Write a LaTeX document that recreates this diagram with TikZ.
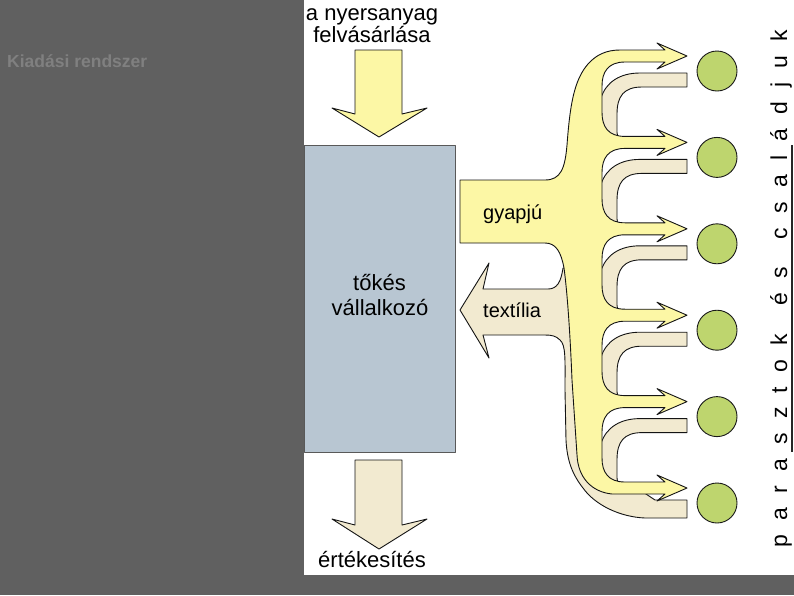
\documentclass[tikz,border=0pt]{standalone}
\usepackage{fontspec}
\setmainfont{Liberation Sans}
\definecolor{cBg}{RGB}{96,96,96}
\definecolor{cTitle}{RGB}{128,128,128}
\definecolor{cYel}{RGB}{252,247,165}
\definecolor{cBei}{RGB}{242,234,208}
\definecolor{cBox}{RGB}{184,198,210}
\definecolor{cFarm}{RGB}{190,213,110}
% yellow arrow head at tip height #1
\newcommand\yhead[1]{-- (665,{#1-6}) -- (657,{#1-13}) -- (687,{#1}) -- (657,{#1+13}) -- (665,{#1+6})}
% notch of the yellow trunk between arrow tips #1 and #2
\newcommand\ynotch[2]{-- (625,{#1+6}) .. controls (608,{#1+6}) and (602,{#1+16}) .. (602,{#1+30}) -- (602,{#2-30}) .. controls (602,{#2-16}) and (608,{#2-6}) .. (625,{#2-6})}
% beige return band from the farm below tip #1, tucked under tip #2
\newcommand\bband[2]{\path[beige] (687,{#1+17}) -- (640,{#1+17}) .. controls (620,{#1+17}) and (606,{#1+26}) .. (601,{#1+42}) -- (600,{#2-2}) -- (628,{#2-2}) .. controls (620,{#2-2}) and (617,{#2-4}) .. (617,{#2-10}) -- (617,{#1+58}) .. controls (617,{#1+40}) and (624,{#1+31}) .. (642,{#1+31}) -- (687,{#1+31}) -- cycle;}
\begin{document}
\begin{tikzpicture}[x=1pt,y=-1pt,line join=round,
  flowline/.style={draw=black!92,line width=0.9pt},
  yellow/.style={fill=cYel,flowline},
  beige/.style={fill=cBei,flowline},
  farmer/.style={circle,draw=black!90,line width=0.9pt,fill=cFarm,minimum size=40pt,inner sep=0pt},
  lbl/.style={font=\fontsize{22}{26}\selectfont,inner sep=0pt,anchor=base},
  smalllbl/.style={font=\fontsize{20}{24}\selectfont,inner sep=0pt,anchor=base west}]
\useasboundingbox (0,0) rectangle (794,595);
\fill[cBg] (0,0) rectangle (794,595);
\fill[white] (304,0) rectangle (794,575);
\node[font=\bfseries\fontsize{17.5}{20}\selectfont,text=cTitle,inner sep=0pt,anchor=base west] (title) at (7,67) {Kiadási rendszer};

% capitalist box
\node[draw=black!65,line width=0.9pt,fill=cBox,minimum width=151pt,minimum height=307pt,anchor=north west,inner sep=0pt] (cap) at (304,145) {};
\node[lbl] (cap1) at (379.5,290) {tőkés};
\node[lbl] (cap2) at (380,315) {vállalkozó};

% top input arrow
\node[lbl] (in1) at (372,20) {a nyersanyag};
\node[lbl] (in2) at (372,42) {felvásárlása};
\path[yellow] (355,50) -- (402,50) -- (402,114) -- (427,108) -- (379,137) -- (332,108) -- (355,114) -- cycle;

% bottom output arrow
\path[beige] (355,460) -- (402,460) -- (402,525) -- (427,519) -- (379,549) -- (332,519) -- (355,525) -- cycle;
\node[lbl] (out) at (372,567) {értékesítés};

% beige return bands
\bband{56}{142.4}
\bband{142.4}{228.8}
\bband{228.8}{315.2}
\bband{315.2}{401.6}
\bband{401.6}{488}

% beige trunk, textile arrow and lowest band
\path[beige] (460,310) -- (489,263) -- (483,289) -- (548,289)
  .. controls (557,289) and (561,282) .. (563,268) -- (595,268) -- (595,480)
  -- (640,490) -- (655,500) -- (687,500) -- (687,518) -- (645,518)
  .. controls (620,517) and (595,505) .. (583,488)
  .. controls (572,474) and (567,460) .. (566,440) -- (565,390)
  .. controls (565,360) and (566,345) .. (560,340)
  .. controls (556,336) and (552,335) .. (545,335) -- (483,335) -- (489,358) -- cycle;

% yellow wool flow
\path[yellow] (460,180) -- (545,180)
  .. controls (561,180) and (565,168) .. (567,145)
  .. controls (570,105) and (574,80) .. (588,64)
  .. controls (596,55) and (606,50) .. (620,50)
  \yhead{56} \ynotch{56}{142.4}
  \yhead{142.4} \ynotch{142.4}{228.8}
  \yhead{228.8} \ynotch{228.8}{315.2}
  \yhead{315.2} \ynotch{315.2}{401.6}
  \yhead{401.6} \ynotch{401.6}{488}
  \yhead{488}
  -- (612,494) .. controls (592,492) and (578,478) .. (577,455)
  -- (572,380) .. controls (570,330) and (567,290) .. (564,268)
  .. controls (561,252) and (556,243) .. (545,243) -- (460,243) -- cycle;

\node[smalllbl] (wool) at (483,219) {gyapjú};
\node[smalllbl] (tex) at (483,317) {textília};

% peasant families
\node[farmer] (f1) at (717,71) {};
\node[farmer] (f2) at (717,157.4) {};
\node[farmer] (f3) at (717,243.8) {};
\node[farmer] (f4) at (717,330.2) {};
\node[farmer] (f5) at (717,416.6) {};
\node[farmer] (f6) at (717,503) {};

\node[font=\fontsize{23}{26}\selectfont,inner sep=0pt,anchor=base,rotate=90] (peas) at (787,288.5)
  {\hbox to 517pt{p\hfill a\hfill r\hfill a\hfill s\hfill z\hfill t\hfill o\hfill k\hfill\hfill é\hfill s\hfill\hfill c\hfill s\hfill a\hfill l\hfill á\hfill d\hfill j\hfill u\hfill k}};
\coordinate (ltop) at (792,145);
\coordinate (lbot) at (792,452);
\draw[line width=1.3pt,black!85] (ltop) -- (lbot);
\end{tikzpicture}
\end{document}
